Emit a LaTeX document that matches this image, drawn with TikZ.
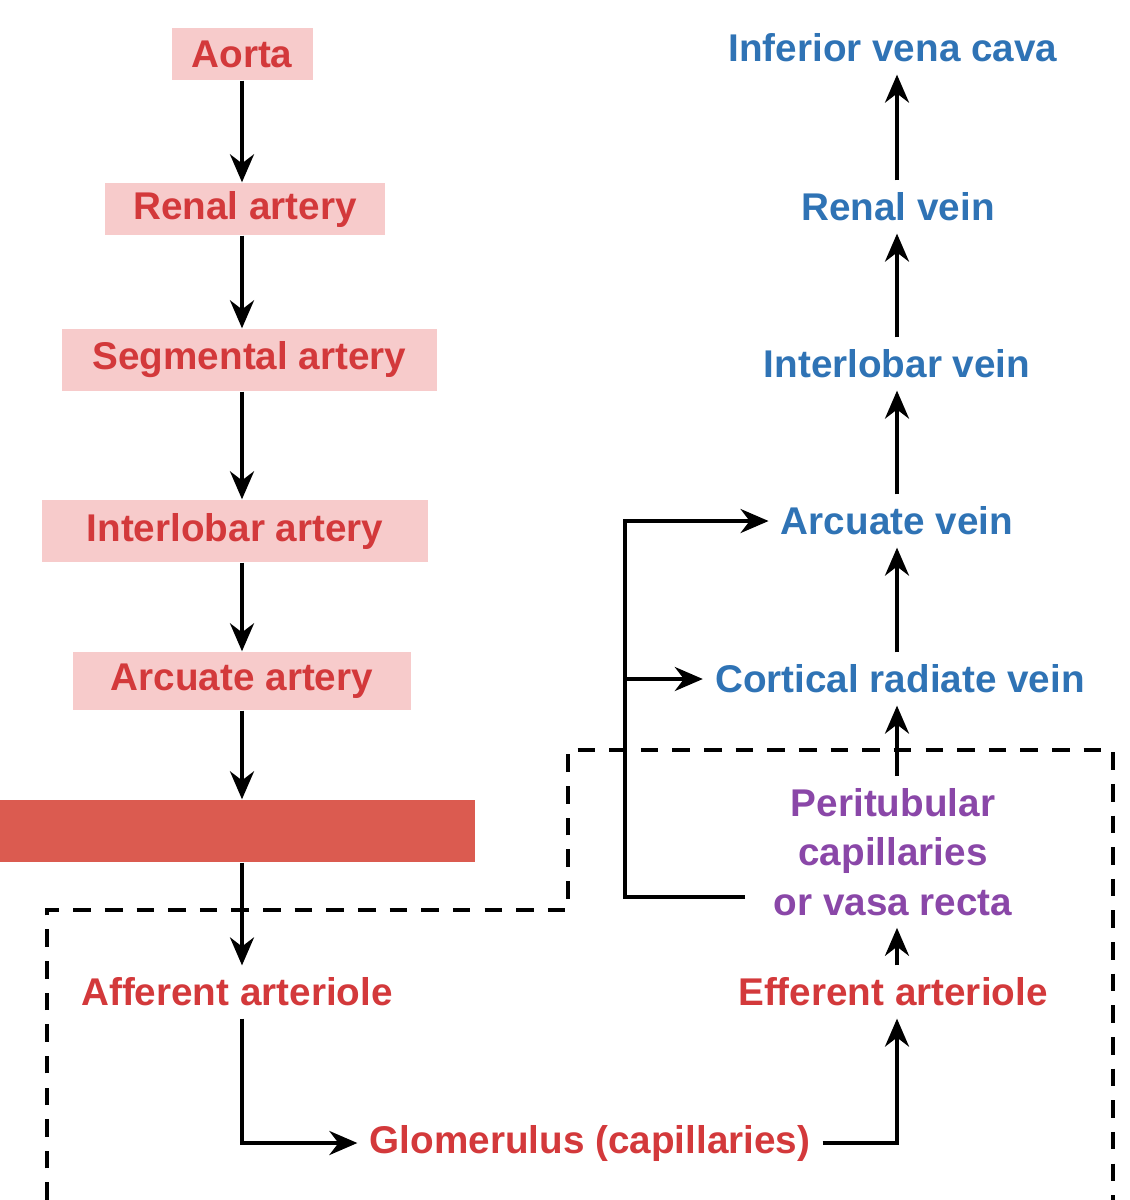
\documentclass[tikz,border=0pt]{standalone}
\usepackage{fontspec}
\setmainfont{Liberation Sans}
\usetikzlibrary{arrows.meta,positioning}
\definecolor{artred}{HTML}{D3393B}
\definecolor{veinblue}{HTML}{2F73B5}
\definecolor{capviolet}{HTML}{8A47A8}
\definecolor{boxpink}{HTML}{F7CBCB}
\definecolor{barred}{HTML}{DB5B50}
\begin{document}
\begin{tikzpicture}[x=1cm,y=-1cm,
    every node/.style={font=\fontsize{11}{13}\bfseries\selectfont},
    artery/.style={text=artred, fill=boxpink, inner sep=0pt},
    arteriole/.style={text=artred},
    vein/.style={text=veinblue},
    capbed/.style={text=capviolet, align=center, font=\fontsize{11}{14}\bfseries\selectfont},
    flow/.style={-{Stealth[length=2.8mm,width=2.4mm]}, line width=1.1pt}]
    \useasboundingbox (0,0) rectangle (11.3,12);
    % Arteries in boxes
    \node[artery, minimum width=1.41cm, minimum height=0.52cm] (aorta) at (2.42,0.54) {Aorta};
    \node[artery, minimum width=2.8cm, minimum height=0.52cm] (renalA) at (2.45,2.09) {Renal artery};
    \node[artery, minimum width=3.75cm, minimum height=0.62cm] (segA) at (2.495,3.6) {Segmental artery};
    \node[artery, minimum width=3.86cm, minimum height=0.62cm] (interA) at (2.35,5.31) {Interlobar artery};
    \node[artery, minimum width=3.38cm, minimum height=0.58cm] (arcA) at (2.42,6.81) {Arcuate artery};
    \node[fill=barred, minimum width=4.75cm, minimum height=0.62cm, inner sep=0pt] (bar) at (2.375,8.31) {};
    % Arterioles and glomerulus
    \node[arteriole] (aff) at (2.37,9.92) {Afferent arteriole};
    \node[arteriole] (glom) at (5.9,11.43) {Glomerulus (capillaries)};
    \node[arteriole] (eff) at (8.93,9.92) {Efferent arteriole};
    \node[capbed] (peri) at (8.93,8.52) {Peritubular\\capillaries\\or vasa recta};
    % Veins
    \node[vein] (cortV) at (9.0,6.79) {Cortical radiate vein};
    \node[vein] (arcV) at (8.97,5.21) {Arcuate vein};
    \node[vein] (interV) at (8.97,3.64) {Interlobar vein};
    \node[vein] (renalV) at (8.98,2.07) {Renal vein};
    \node[vein] (ivc) at (8.93,0.48) {Inferior vena cava};
    \coordinate (vcol) at (8.97,0);
    % Dashed region
    \draw[dashed, line width=0.9pt, dash pattern=on 5pt off 4pt] (0.47,12) -- (0.47,9.1) -- (5.68,9.1) -- (5.68,7.5) -- (11.13,7.5) -- (11.13,12);
    % Arterial chain
    \draw[flow] (aorta.south) -- (renalA.north -| aorta);
    \draw[flow] (renalA.south -| aorta) -- (segA.north -| aorta);
    \draw[flow] (segA.south -| aorta) -- (interA.north -| aorta);
    \draw[flow] (interA.south -| aorta) -- (arcA.north -| aorta);
    \draw[flow] (arcA.south -| aorta) -- (bar.north -| aorta);
    \draw[flow] (bar.south -| aorta) -- (aff.north -| aorta);
    \draw[flow] (aff.south -| aorta) |- (glom.west);
    \draw[flow] (glom.east) -| (eff.south -| vcol);
    \draw[flow] (eff.north -| vcol) -- (peri.south -| vcol);
    % Venous chain
    \draw[flow] (peri.north -| vcol) -- (cortV.south -| vcol);
    \draw[flow] (cortV.north -| vcol) -- (arcV.south -| vcol);
    \draw[flow] (arcV.north -| vcol) -- (interV.south -| vcol);
    \draw[flow] (interV.north -| vcol) -- (renalV.south -| vcol);
    \draw[flow] (renalV.north -| vcol) -- (ivc.south -| vcol);
    % Bypass from peritubular
    \coordinate (bend) at (6.25,8.97);
    \coordinate (periL) at (7.45,8.97);
    \draw[flow] (periL) -- (bend) |- (arcV.west);
    \draw[flow] (bend |- cortV) -- (cortV.west);
\end{tikzpicture}
\end{document}
